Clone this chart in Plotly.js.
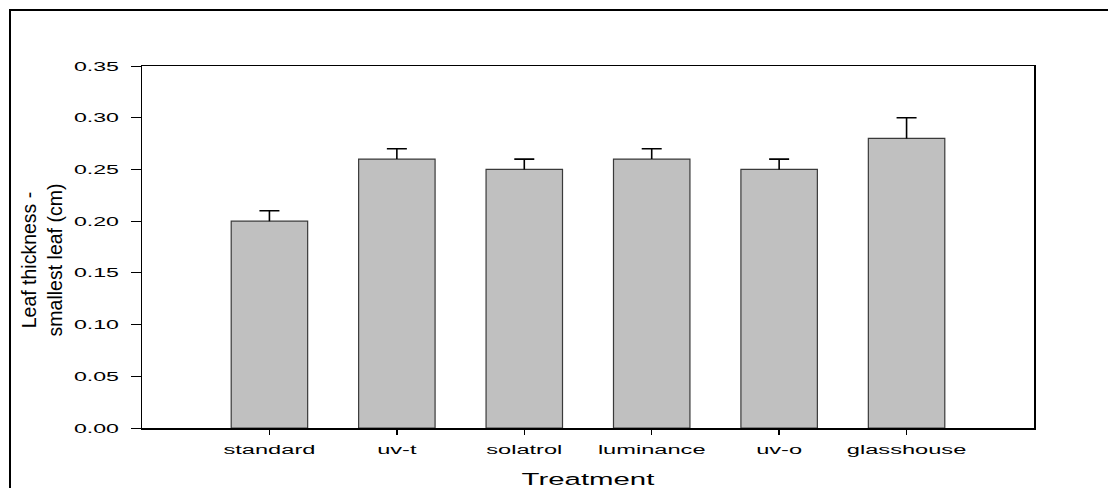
<!DOCTYPE html>
<html>
<head>
<meta charset="utf-8">
<script src="https://cdn.plot.ly/plotly-3.0.1.min.js"></script>
<style>
  html, body { margin: 0; padding: 0; background: #ffffff; }
  #wrap { position: relative; width: 1108px; height: 488px; overflow: hidden; }
  #frame { position: absolute; left: 9px; top: 9px; width: 1200px; height: 600px;
           border-left: 2px solid #000; border-top: 2px solid #000; pointer-events: none; z-index: 2; }
  #chart { position: absolute; left: 0; top: 0; width: 1108px; height: 488px; }
</style>
</head>
<body>
<div id="wrap">
  <div id="chart"></div>
  <div id="frame"></div>
</div>
<script>
// ---- data ----
const categories = ["standard", "uv-t", "solatrol", "luminance", "uv-o", "glasshouse"];
const thickness  = [0.20, 0.26, 0.25, 0.26, 0.25, 0.28];
const errorUp    = [0.01, 0.01, 0.01, 0.01, 0.01, 0.02];
const errorDown  = [0, 0, 0, 0, 0, 0];
const yTickVals  = [0, 0.05, 0.10, 0.15, 0.20, 0.25, 0.30, 0.35];

const FONT = "Liberation Sans, Arial, sans-serif";

const trace = {
  type: "bar",
  x: categories,
  y: thickness,
  width: 0.6,
  marker: { color: "#c0c0c0", line: { color: "#3a3a3a", width: 1.2 } },
  error_y: {
    type: "data", symmetric: false,
    array: errorUp, arrayminus: errorDown,
    color: "#000000", thickness: 1.6, width: 10
  },
  hoverinfo: "x+y"
};

const layout = {
  width: 1108, height: 488,
  margin: { l: 142, r: 74, t: 66, b: 60, pad: 0 },
  paper_bgcolor: "rgba(0,0,0,0)",
  plot_bgcolor: "#ffffff",
  showlegend: false,
  font: { family: FONT, color: "#000000" },
  xaxis: {
    type: "category",
    range: [-1, 6],
    showline: true, mirror: true, linecolor: "#000000", linewidth: 1.5,
    ticks: "outside", ticklen: 5, tickwidth: 1.5, tickcolor: "#000000",
    ticklabelstandoff: 3,
    tickfont: { family: FONT, size: 13.5, color: "#000000" },
    showgrid: false, zeroline: false,
    title: { text: "Treatment", font: { family: FONT, size: 16.5, color: "#000000" }, standoff: 18 }
  },
  yaxis: {
    range: [0, 0.35],
    tickvals: yTickVals,
    tickformat: ".2f",
    showline: true, mirror: true, linecolor: "#000000", linewidth: 1.5,
    ticks: "outside", ticklen: 10, tickwidth: 1, tickcolor: "#000000",
    ticklabelstandoff: 9,
    tickfont: { family: FONT, size: 13, color: "#000000" },
    showgrid: false, zeroline: false,
    title: { text: "Leaf thickness -<br>smallest leaf (cm)", font: { family: FONT, size: 19.5, color: "#000000" }, standoff: 20 }
  }
};

function stretchText(selector, s) {
  document.querySelectorAll(selector).forEach(function (t) {
    const x = parseFloat(t.getAttribute("x")) || 0;
    const tr = t.getAttribute("transform") || "";
    t.setAttribute("transform", tr + " translate(" + x + ",0) scale(" + s + ",1) translate(" + (-x) + ",0)");
  });
}

function shiftText(selector, dx, dy) {
  document.querySelectorAll(selector).forEach(function (t) {
    const tr = t.getAttribute("transform") || "";
    t.setAttribute("transform", "translate(" + dx + "," + dy + ") " + tr);
  });
}

// error bars in the reference are one-sided: drop the cap drawn at the bar top
function dropLowerCaps() {
  document.querySelectorAll("#chart .errorbar path").forEach(function (p) {
    const d = p.getAttribute("d") || "";
    p.setAttribute("d", d.replace(/m-?[\d.]+,0h[\d.]+\s*$/i, ""));
  });
}

Plotly.newPlot("chart", [trace], layout, { staticPlot: true, displayModeBar: false }).then(function () {
  stretchText("#chart .xtick text", 1.75);
  stretchText("#chart .ytick text", 1.78);
  stretchText("#chart .xtitle", 1.78);
  shiftText("#chart .ytitle", -6, 13);
  dropLowerCaps();
});
</script>
</body>
</html>
